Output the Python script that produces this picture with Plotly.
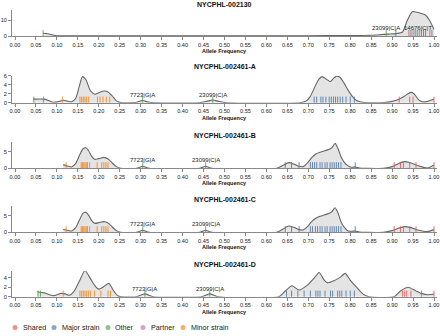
import plotly.graph_objects as go

W, H = 440, 336
FONT = "Liberation Sans, Arial, Helvetica, sans-serif"

# ---------------- data ----------------
samples = ["NYCPHL-002130", "NYCPHL-002461-A", "NYCPHL-002461-B",
           "NYCPHL-002461-C", "NYCPHL-002461-D"]

categories = ["Shared", "Major strain", "Other", "Partner", "Minor strain"]

tick_vals = [0.00, 0.05, 0.10, 0.15, 0.20, 0.25, 0.30, 0.35, 0.40, 0.45, 0.50,
             0.55, 0.60, 0.65, 0.70, 0.75, 0.80, 0.85, 0.90, 0.95, 1.00]
tick_labels = ["0.00", "0.05", "0.10", "0.15", "0.20", "0.25", "0.30", "0.35",
               "0.40", "0.45", "0.50", "0.55", "0.60", "0.65", "0.70", "0.75",
               "0.80", "0.85", "0.90", "0.95", "1.00"]

# density curves (allele frequency, density)
d1_x = [0.067, 0.075, 0.085, 0.10, 0.15, 0.40, 0.70, 0.80, 0.85, 0.87,
        0.89, 0.91, 0.925, 0.935, 0.948, 0.96, 0.97, 0.98, 0.99, 1.0]
d1_y = [1.7, 1.6, 0.9, 0.2, 0.1, 0.1, 0.15, 0.3, 0.5, 0.8,
        1.2, 1.5, 2.5, 9.0, 15.2, 14.8, 14.0, 13.0, 9.5, 4.0]

d2_x = [0.043, 0.07, 0.08, 0.092, 0.105, 0.115, 0.125, 0.135, 0.145, 0.153,
        0.161, 0.17, 0.178, 0.185, 0.191, 0.2, 0.212, 0.222, 0.232, 0.242,
        0.252, 0.27, 0.29, 0.304, 0.318, 0.335, 0.44, 0.458, 0.472, 0.486,
        0.505, 0.68, 0.695, 0.705, 0.715, 0.725, 0.733, 0.742, 0.752, 0.76,
        0.768, 0.776, 0.785, 0.795, 0.805, 0.815, 0.83, 0.85, 0.88, 0.9,
        0.915, 0.93, 0.944, 0.952, 0.962, 0.972, 0.985, 1.0]
d2_y = [0.8, 0.8, 0.5, 0.1, 0.3, 0.55, 0.35, 0.2, 1.0, 3.5,
        5.8, 5.0, 3.0, 2.2, 1.9, 2.2, 2.6, 2.4, 1.5, 0.4,
        0.05, 0.0, 0.1, 0.5, 0.15, 0.0, 0.0, 0.3, 0.6, 0.3,
        0.0, 0.0, 0.4, 1.4, 3.4, 5.2, 5.8, 5.3, 4.7, 5.4,
        5.9, 5.6, 4.4, 2.8, 1.4, 0.5, 0.1, 0.0, 0.05, 0.3,
        0.7, 1.5, 2.3, 2.0, 0.8, 0.2, 0.3, 0.8]

d3_x = [0.115, 0.125, 0.135, 0.145, 0.155, 0.162, 0.169, 0.176, 0.183, 0.19,
        0.2, 0.212, 0.222, 0.232, 0.242, 0.252, 0.29, 0.305, 0.32, 0.44,
        0.455, 0.47, 0.625, 0.64, 0.653, 0.665, 0.678, 0.688, 0.698, 0.708,
        0.718, 0.728, 0.74, 0.75, 0.757, 0.764, 0.771, 0.778, 0.786, 0.794,
        0.802, 0.812, 0.822, 0.84, 0.88, 0.9, 0.915, 0.929, 0.945, 0.964,
        0.984, 1.0]
d3_y = [1.1, 0.7, 0.4, 1.5, 4.2, 5.8, 6.2, 5.2, 3.6, 2.7,
        2.9, 3.3, 2.8, 1.6, 0.5, 0.0, 0.0, 0.6, 0.0, 0.0,
        0.6, 0.0, 0.0, 0.9, 1.7, 1.3, 0.6, 0.5, 1.6, 3.2,
        4.3, 4.8, 5.3, 5.7, 6.3, 7.5, 5.9, 3.5, 1.8, 0.8,
        0.3, 0.4, 0.1, 0.0, 0.0, 0.5, 1.4, 2.0, 1.6, 0.7,
        0.1, 1.0]

d4_x = [0.115, 0.125, 0.135, 0.145, 0.155, 0.162, 0.169, 0.176, 0.183, 0.19,
        0.2, 0.212, 0.222, 0.232, 0.242, 0.252, 0.29, 0.305, 0.32, 0.44,
        0.455, 0.47, 0.625, 0.64, 0.653, 0.665, 0.678, 0.688, 0.698, 0.708,
        0.718, 0.728, 0.74, 0.75, 0.757, 0.764, 0.771, 0.778, 0.786, 0.794,
        0.802, 0.812, 0.822, 0.84, 0.88, 0.9, 0.915, 0.929, 0.945, 0.964,
        0.984, 1.0]
d4_y = [0.9, 0.6, 0.4, 1.4, 4.0, 5.7, 6.0, 5.1, 3.5, 2.7,
        2.9, 3.2, 2.8, 1.6, 0.5, 0.0, 0.0, 0.6, 0.0, 0.0,
        0.6, 0.0, 0.0, 1.0, 1.9, 1.5, 0.8, 0.7, 1.7, 3.2,
        4.2, 4.8, 5.3, 5.7, 6.3, 7.4, 5.8, 3.2, 1.5, 0.5,
        0.3, 0.4, 0.1, 0.0, 0.0, 0.5, 1.2, 1.7, 1.4, 0.6,
        0.2, 0.8]

d5_x = [0.053, 0.07, 0.09, 0.1, 0.11, 0.12, 0.13, 0.14, 0.155, 0.167,
        0.18, 0.19, 0.2, 0.21, 0.224, 0.235, 0.245, 0.255, 0.29, 0.31,
        0.33, 0.445, 0.465, 0.485, 0.63, 0.645, 0.661, 0.678, 0.70, 0.715,
        0.726, 0.737, 0.746, 0.76, 0.775, 0.788, 0.80, 0.815, 0.83, 0.845,
        0.905, 0.92, 0.938, 0.955, 0.97, 0.985, 1.0]
d5_y = [1.05, 0.8, 0.2, 0.4, 0.7, 0.6, 0.3, 1.0, 3.5, 5.5,
        3.8, 2.4, 1.6, 2.0, 2.8, 1.3, 0.2, 0.0, 0.0, 0.6,
        0.0, 0.0, 0.6, 0.0, 0.0, 1.2, 2.3, 1.4, 2.6, 4.0,
        5.1, 3.6, 2.9, 3.3, 4.0, 4.9, 3.5, 2.0, 0.6, 0.0,
        0.0, 1.2, 2.0, 1.3, 0.7, 0.4, 0.5]

# variant rugs (allele frequency, category)
r1_freq = [0.067, 0.886, 0.909, 0.94, 0.945, 0.95, 0.955, 0.96, 0.965,
           0.97, 0.975, 0.98, 0.99, 0.995]
r1_cat = ["Other", "Other", "Major strain", "Shared", "Major strain", "Shared",
          "Major strain", "Major strain", "Shared", "Major strain",
          "Major strain", "Major strain", "Shared", "Major strain"]

r2_freq = [0.045, 0.068, 0.113, 0.155, 0.159, 0.163, 0.167, 0.171, 0.176,
           0.197, 0.203, 0.21, 0.218, 0.226, 0.304, 0.472,
           0.714, 0.72, 0.73, 0.735, 0.742, 0.75, 0.755, 0.76, 0.765, 0.77,
           0.776, 0.782, 0.79, 0.8, 0.81, 0.917, 0.942, 0.95, 1.0]
r2_cat = ["Other", "Other", "Minor strain"] + ["Minor strain"] * 11 + \
         ["Other", "Other"] + ["Major strain"] * 15 + ["Shared"] * 4

r3_freq = [0.122, 0.158, 0.161, 0.164, 0.167, 0.17, 0.173, 0.178, 0.196,
           0.207, 0.212, 0.217, 0.222, 0.305, 0.455,
           0.645, 0.66, 0.678, 0.705, 0.71, 0.715, 0.72, 0.728, 0.733, 0.74,
           0.745, 0.752, 0.757, 0.762, 0.767, 0.772, 0.778, 0.812,
           0.905, 0.92, 0.927, 0.942, 0.957, 1.0]
r3_cat = ["Minor strain"] * 13 + ["Other", "Other"] + ["Major strain"] * 18 + \
         ["Shared"] * 6

r4_freq = [0.122, 0.158, 0.161, 0.164, 0.167, 0.17, 0.173, 0.178, 0.196,
           0.207, 0.212, 0.217, 0.222, 0.305, 0.455,
           0.645, 0.66, 0.678, 0.705, 0.71, 0.717, 0.722, 0.728, 0.733, 0.74,
           0.745, 0.752, 0.757, 0.762, 0.767, 0.772, 0.778, 0.812,
           0.905, 0.92, 0.927, 0.942, 0.957, 1.0]
r4_cat = ["Minor strain"] * 13 + ["Other", "Other"] + ["Major strain"] * 18 + \
         ["Shared"] * 6

r5_freq = [0.055, 0.061, 0.115, 0.155, 0.159, 0.163, 0.167, 0.171, 0.175,
           0.18, 0.19, 0.205, 0.222, 0.228, 0.31, 0.465,
           0.648, 0.66, 0.675, 0.69, 0.705, 0.718, 0.723, 0.728, 0.74, 0.753,
           0.758, 0.77, 0.775, 0.78, 0.79, 0.8, 0.81,
           0.925, 0.93, 0.935, 0.945, 0.97, 1.0]
r5_cat = ["Other", "Other"] + ["Minor strain"] * 12 + ["Other", "Other"] + \
         ["Major strain"] * 17 + ["Shared"] * 6

# labelled variants
l1_text = ["23099|C|A", "14676|C|T"]
l1_freq = [0.886, 0.962]
l2_text = ["7723|G|A", "23099|C|A"]
l2_freq = [0.304, 0.472]
l3_text = ["7723|G|A", "23099|C|A"]
l3_freq = [0.305, 0.455]
l4_text = ["7723|G|A", "23099|C|A"]
l4_freq = [0.305, 0.455]
l5_text = ["7723|G|A", "23099|C|A"]
l5_freq = [0.31, 0.465]

curves = [(d1_x, d1_y), (d2_x, d2_y), (d3_x, d3_y), (d4_x, d4_y), (d5_x, d5_y)]
rugs = [(r1_freq, r1_cat), (r2_freq, r2_cat), (r3_freq, r3_cat),
        (r4_freq, r4_cat), (r5_freq, r5_cat)]
labels = [(l1_text, l1_freq), (l2_text, l2_freq), (l3_text, l3_freq),
          (l4_text, l4_freq), (l5_text, l5_freq)]

for (cx, cy) in curves:
    assert len(cx) == len(cy)
for (rf, rc) in rugs:
    assert len(rf) == len(rc)

# ---------------- style / layout ----------------
cat_rgb = {"Shared": (228, 87, 86), "Major strain": (76, 120, 168),
           "Other": (84, 162, 75), "Partner": (178, 121, 162),
           "Minor strain": (245, 133, 24)}

def rgba(c, a):
    return "rgba(%d,%d,%d,%.2f)" % (c[0], c[1], c[2], a)

base_px = [36, 102.7, 168.3, 232.3, 296.7]
top_px = [10, 75.7, 141.7, 205.7, 271]
title_px = [4.5, 67, 135, 199, 264]
y_max = [16.25, 6, 8, 8, 5.4]
y_dtick = [10, 2, 5, 5, 2]

x_left, x_right = 12, 437
x0_px, x1_px = 15, 434
px_per_x = (x1_px - x0_px)
x_range = [-(x0_px - x_left) / px_per_x, 1 + (x_right - x1_px) / px_per_x]

def py(px):
    return 1 - px / H

fig = go.Figure()
layout = dict(
    template="none",
    width=W, height=H, margin=dict(l=0, r=0, t=0, b=0, pad=0),
    paper_bgcolor="white", plot_bgcolor="white", showlegend=False,
    font=dict(family=FONT, color="#222"),
)
annotations = []
shapes = []

for i in range(5):
    n = i + 1
    xa = "x" if n == 1 else "x%d" % n
    ya = "y" if n == 1 else "y%d" % n
    cx, cy = curves[i]
    fig.add_trace(go.Scatter(
        x=cx, y=cy, mode="lines", xaxis=xa, yaxis=ya,
        line=dict(color="#666666", width=1.1, shape="spline", smoothing=0.6),
        fill="tozeroy", fillcolor="#e4e4e4", hoverinfo="skip"))

    ppu = (base_px[i] - top_px[i]) / y_max[i]
    rug_y = 2.6 / ppu
    rf, rc = rugs[i]
    for cat in categories:
        xs = [f for f, c in zip(rf, rc) if c == cat]
        if not xs:
            continue
        fig.add_trace(go.Scatter(
            x=xs, y=[rug_y] * len(xs), mode="markers", xaxis=xa, yaxis=ya,
            marker=dict(symbol="line-ns", size=5,
                        line=dict(width=1, color=rgba(cat_rgb[cat], 0.85))),
            name=cat, hoverinfo="x+name"))

    axis_common = dict(showgrid=False, zeroline=False, showline=True,
                       automargin=False, ticklabeloverflow="allow",
                       linecolor="#888888", linewidth=1, ticks="outside",
                       ticklen=3, tickcolor="#888888", tickwidth=1,
                       tickfont=dict(size=5.6, family=FONT, color="#222"))
    layout["xaxis" if n == 1 else "xaxis%d" % n] = dict(
        domain=[x_left / W, x_right / W], range=x_range, anchor=ya,
        tickvals=tick_vals, ticktext=tick_labels, **axis_common)
    layout["yaxis" if n == 1 else "yaxis%d" % n] = dict(
        domain=[py(base_px[i]), py(top_px[i])], range=[0, y_max[i]],
        anchor=xa, dtick=y_dtick[i], **axis_common)

    annotations.append(dict(
        text="<b>%s</b>" % samples[i], x=(x_left + x_right) / 2 / W,
        y=py(title_px[i]), xref="paper", yref="paper", showarrow=False,
        xanchor="center", yanchor="middle",
        font=dict(size=7, family=FONT, color="#111")))
    annotations.append(dict(
        text="<b>Allele Frequency</b>", x=(x_left + x_right) / 2 / W,
        y=py(base_px[i] + 15), xref="paper", yref="paper", showarrow=False,
        xanchor="center", yanchor="middle",
        font=dict(size=5.5, family=FONT, color="#111")))
    lt, lf = labels[i]
    for t, f in zip(lt, lf):
        annotations.append(dict(
            text=t, x=f, y=0, xref=xa, yref=ya, showarrow=False,
            xanchor="center", yanchor="middle", yshift=8,
            font=dict(size=6, family=FONT, color="#222")))

# legend drawn manually (compact, one row)
leg_circle_px = [15, 54, 108, 143, 183]
leg_y = py(327.5)
for cat, cxp in zip(categories, leg_circle_px):
    shapes.append(dict(
        type="circle", xref="paper", yref="paper", xsizemode="pixel",
        ysizemode="pixel", xanchor=cxp / W, yanchor=leg_y,
        x0=-2.5, x1=2.5, y0=-2.5, y1=2.5,
        fillcolor=rgba(cat_rgb[cat], 0.65), line=dict(width=0)))
    annotations.append(dict(
        text=cat, x=(cxp + 5.5) / W, y=leg_y, xref="paper", yref="paper",
        showarrow=False, xanchor="left", yanchor="middle",
        font=dict(size=7.2, family=FONT, color="#222")))

layout["annotations"] = annotations
layout["shapes"] = shapes
fig.update_layout(**layout)
fig.write_html("out.html",
               config={"displayModeBar": False},
               post_script="document.body.style.margin='0';"
                           "document.body.style.overflow='hidden';")
